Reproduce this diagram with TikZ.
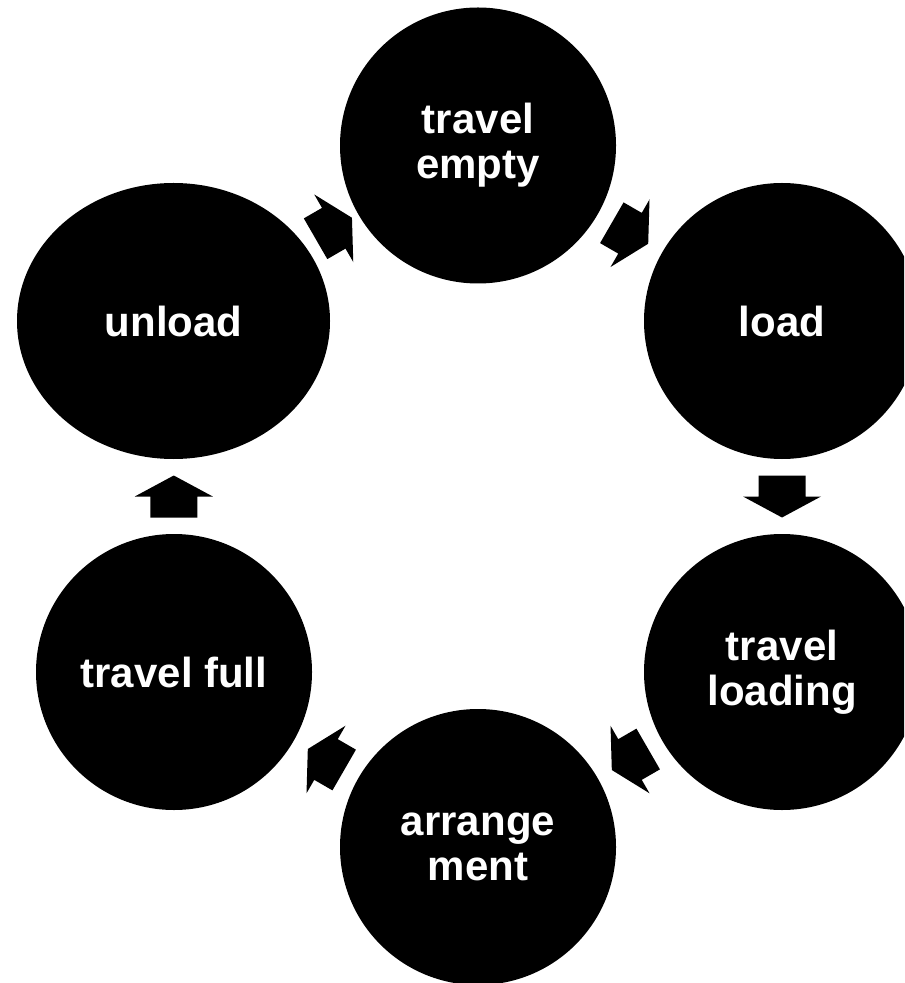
\documentclass[tikz,border=0pt]{standalone}
\usepackage{fontspec}
\setmainfont{Liberation Sans}
\usetikzlibrary{calc,shapes.geometric}

\tikzset{
  stage/.style={circle, fill=black, text=white, inner sep=0pt, minimum size=138pt,
    align=center, font=\fontsize{21}{22.5}\selectfont\bfseries},
  cyclearrow/.pic={
    \fill[black] (-21,-23.5) -- (0,-23.5) -- (0,-39) -- (21,0) -- (0,39) -- (0,23.5) -- (-21,23.5) -- cycle;
  }
}

\begin{document}
\begin{tikzpicture}[x=0.5pt,y=-0.5pt]
\useasboundingbox (0,0) rectangle (904,983);
\clip (0,0) rectangle (904,983);
% stages of the cycle
\node[stage] (empty) at (478,145.5) {travel\\empty};
\node[stage] (load) at (782,321) {load};
\node[stage] (loading) at (782,672) {travel\\loading};
\node[stage] (arrange) at (478,847) {arrange\\ment};
\node[stage] (full) at (174,672) {travel full};
\node[stage, ellipse, minimum width=156.5pt] (unload) at (173.5,321) {unload};
% arrows between stages
\pic[rotate=-30] at ($(empty)!0.5!(load)$) {cyclearrow};
\pic[rotate=-90] at ($(load)!0.5!(loading)$) {cyclearrow};
\pic[rotate=-150] at ($(loading)!0.5!(arrange)$) {cyclearrow};
\pic[rotate=150] at ($(arrange)!0.5!(full)$) {cyclearrow};
\pic[rotate=90] at ($(full)!0.5!(unload)$) {cyclearrow};
\pic[rotate=30] at ($(unload)!0.5!(empty)+(8,-5)$) {cyclearrow};
\end{tikzpicture}
\end{document}
